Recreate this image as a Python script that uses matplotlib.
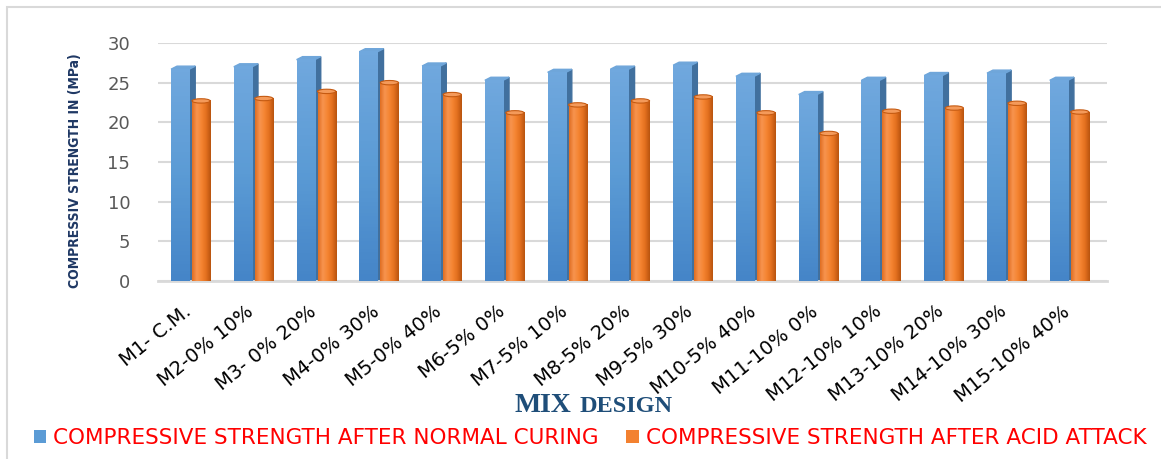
import matplotlib.pyplot as plt
import matplotlib.transforms as mtransforms
from matplotlib.patches import Ellipse, Rectangle, Polygon
from matplotlib.colors import LinearSegmentedColormap
from matplotlib import font_manager
import numpy as np

mixes = ["M1- C.M.", "M2-0% 10%", "M3- 0% 20%", "M4-0% 30%", "M5-0% 40%",
         "M6-5% 0%", "M7-5% 10%", "M8-5% 20%", "M9-5% 30%", "M10-5% 40%",
         "M11-10% 0%", "M12-10% 10%", "M13-10% 20%", "M14-10% 30%", "M15-10% 40%"]
normal_curing = [26.7, 27.0, 27.9, 28.9, 27.1, 25.3, 26.3, 26.7, 27.2, 25.8,
                 23.5, 25.3, 25.9, 26.2, 25.3]
acid_attack = [22.7, 23.0, 23.9, 25.0, 23.5, 21.2, 22.2, 22.7, 23.2, 21.2,
               18.6, 21.4, 21.8, 22.4, 21.3]
yticks = [0, 5, 10, 15, 20, 25, 30]

# condensed font for the y label if one is installed
fp = font_manager.FontProperties(family="DejaVu Sans", stretch="condensed",
                                 weight="bold")
ylab_size = 10 if "Condensed" in font_manager.findfont(fp) else 8.4
try:
    font_manager.findfont("Liberation Sans Narrow", fallback_to_default=False)
    fp = font_manager.FontProperties(family="Liberation Sans Narrow",
                                     weight="bold")
    ylab_size = 10.5
except Exception:
    pass

blue_cm = LinearSegmentedColormap.from_list("b", ["#4585C8", "#5B9BD5", "#70A8DE"])
orange_cm = LinearSegmentedColormap.from_list(
    "o", ["#E06E22", "#F7944F", "#F58532", "#E3701F", "#B8540F"])

fig = plt.figure(figsize=(11.61, 4.59), dpi=100)
ax = fig.add_axes([158 / 1161, (459 - 281) / 459, (1107 - 158) / 1161, 238 / 459])

x = np.arange(len(mixes))
w = 0.29
off = 0.167
dx = 0.095   # 3d depth in x (data units)
dy = 0.38    # 3d depth in y (data units)

vgrad = np.linspace(0, 1, 64).reshape(-1, 1)
hgrad = np.linspace(0, 1, 64).reshape(1, -1)

# blue box bars
xb = x - off
ax.bar(xb, normal_curing, width=w, color="#5B9BD5", zorder=3,
       label="COMPRESSIVE STRENGTH AFTER NORMAL CURING")
for xi, v in zip(xb, normal_curing):
    r = xi + w / 2
    l = xi - w / 2
    ax.imshow(vgrad, cmap=blue_cm, origin="lower", extent=[l, r, 0, v],
              aspect="auto", zorder=3.1)
    ax.add_patch(Polygon([(r, 0), (r + dx, dy), (r + dx, v + dy), (r, v)],
                         closed=True, color="#41709E", zorder=2))
    ax.add_patch(Polygon([(l, v), (r, v), (r + dx, v + dy), (l + dx, v + dy)],
                         closed=True, color="#6FA6DA", zorder=3))

# orange cylinders
xo = x + off
ax.bar(xo, acid_attack, width=w, color="#F38130", zorder=4,
       label="COMPRESSIVE STRENGTH AFTER ACID ATTACK")
for xi, v in zip(xo, acid_attack):
    ax.imshow(hgrad, cmap=orange_cm, extent=[xi - w / 2, xi + w / 2, 0, v],
              aspect="auto", zorder=4.1)
    ax.add_patch(Ellipse((xi, 0), w, 0.45, facecolor="#D8681C",
                         edgecolor="none", zorder=4))
    ax.add_patch(Ellipse((xi, v), w, 0.55, facecolor="#F49A5A",
                         edgecolor="#C55A11", lw=0.8, zorder=5))

ax.set_xlim(-0.52, 14.6)
ax.set_ylim(0, 30)
ax.set_yticks(yticks)
ax.set_xticks(x)
ax.set_xticklabels(mixes, rotation=39, ha="right", va="top",
                   rotation_mode="anchor", fontsize=14, color="black")
ax.tick_params(axis="y", length=0, pad=20, labelsize=13, labelcolor="#595959")
ax.tick_params(axis="x", length=0, pad=15)
shift = mtransforms.ScaledTranslation(-0.08, 0, fig.dpi_scale_trans)
for lab in ax.get_xticklabels():
    lab.set_transform(lab.get_transform() + shift)

ax.yaxis.grid(True, color="#D9D9D9", lw=1.5, zorder=0)
ax.set_axisbelow(True)
for s in ["top", "right", "left"]:
    ax.spines[s].set_visible(False)
ax.spines["bottom"].set_color("#D9D9D9")
ax.spines["bottom"].set_linewidth(2)

fig.text(75 / 1161, (459 - 171) / 459, "COMPRESSIV STRENGTH IN (MPa)",
         rotation=90, ha="center", va="center", fontsize=ylab_size,
         color="#1F3864", fontproperties=fp)
fig.text(571 / 1161, (459 - 412) / 459, "MIX", ha="right", va="baseline",
         fontsize=20, fontweight="bold", color="#1F4E79",
         family="Liberation Serif")
fig.text(580 / 1161, (459 - 412) / 459, "DESIGN", ha="left", va="baseline",
         fontsize=17.5, fontweight="bold", color="#1F4E79",
         family="Liberation Serif")

handles, labels = ax.get_legend_handles_labels()
leg = fig.legend(handles[:2], labels[:2], loc="center", ncol=2,
                 bbox_to_anchor=(590 / 1161, (459 - 438) / 459), frameon=False,
                 fontsize=15.5, handlelength=0.6, handleheight=0.6,
                 handletextpad=0.3, columnspacing=1.3)
for t in leg.get_texts():
    t.set_color("#FF0000")

fig.patches.append(Rectangle((7 / 1161, -0.1), 1.2, (459 - 7) / 459 + 0.1,
                             transform=fig.transFigure, fill=False,
                             edgecolor="#D9D9D9", lw=1.5))

fig.savefig("out.png", dpi=100)
